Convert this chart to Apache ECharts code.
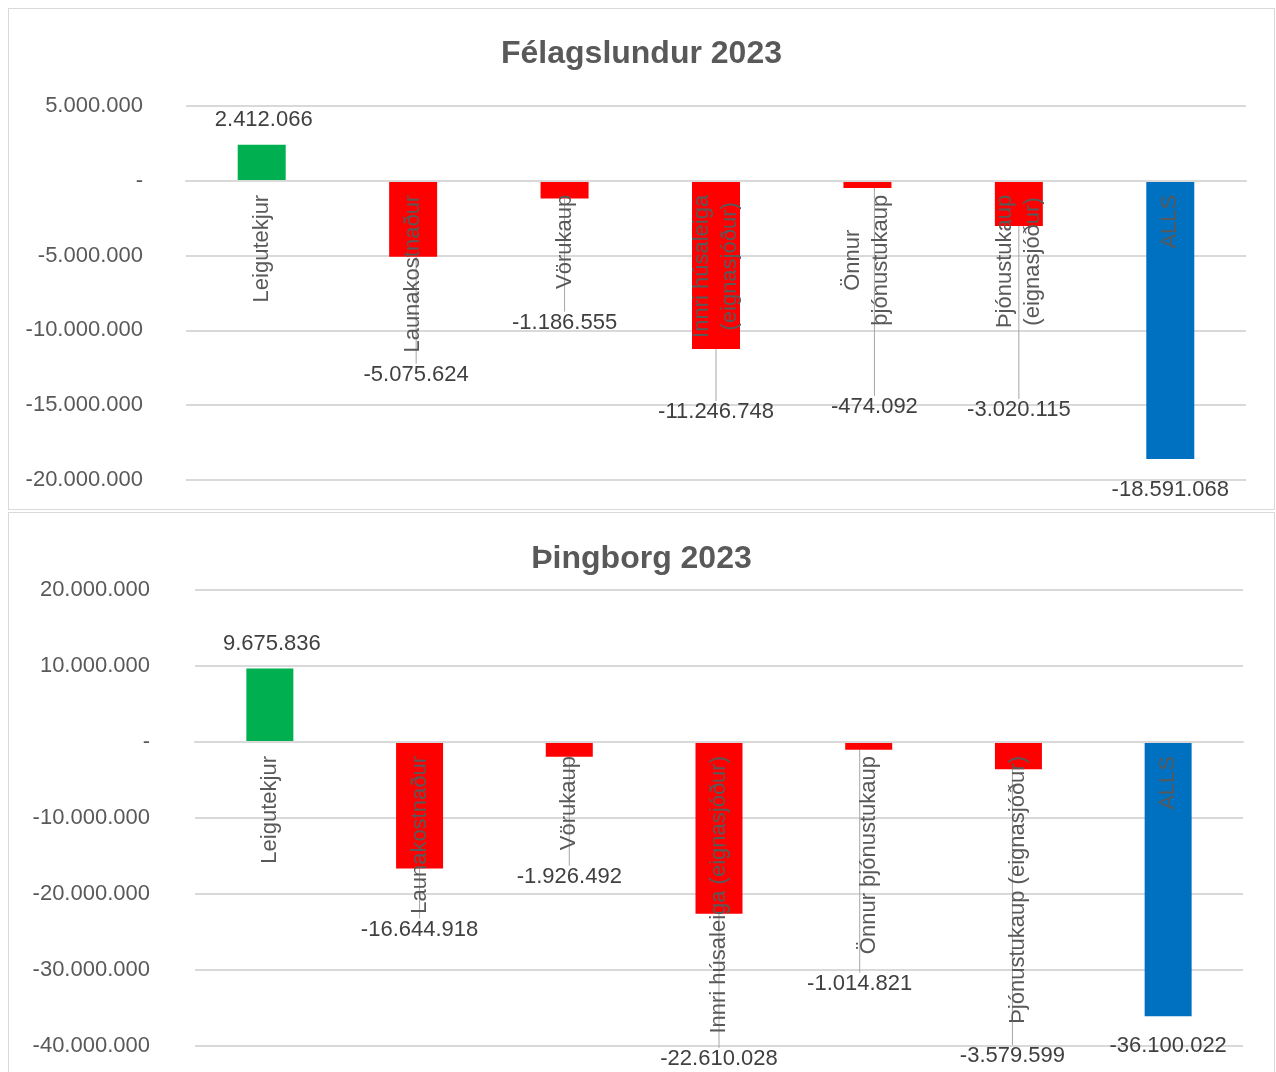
<!DOCTYPE html>
<html><head><meta charset="utf-8">
<script src="https://cdn.jsdelivr.net/npm/echarts@6/dist/echarts.min.js"></script>
<style>
html,body{margin:0;padding:0;background:#fff;overflow:hidden;width:1276px;height:1072px;}
.box{position:absolute;left:8px;width:1265px;border:1px solid #d9d9d9;background:#fff;}
#c1{top:8px;height:500px;}
#c2{top:512px;height:570px;}
</style></head><body>
<div id="c1" class="box"></div>
<div id="c2" class="box"></div>
<script>
// ---- data ----
const categories = ['Leigutekjur', 'Launakostnaður', 'Vörukaup', 'Innri húsaleiga (eignasjóður)', 'Önnur þjónustukaup', 'Þjónustukaup (eignasjóður)', 'ALLS'];
const titleTop = 'Félagslundur 2023';
const valuesTop = [2412066, -5075624, -1186555, -11246748, -474092, -3020115, -18591068];
const ticksTop = [-20000000, -15000000, -10000000, -5000000, 0, 5000000];
const titleBottom = 'Þingborg 2023';
const valuesBottom = [9675836, -16644918, -1926492, -22610028, -1014821, -3579599, -36100022];
const ticksBottom = [-40000000, -30000000, -20000000, -10000000, 0, 10000000, 20000000];

// ---- styling (label nudges in px, as placed in the original) ----
const labelShiftTop = [[2, 0], [3, 93], [0, 99], [0, 38], [7, 194], [0, 159], [0, 6]];
const labelShiftBottom = [[2, 0], [0, 36], [0, 95], [0, 120], [-9, 209], [-6, 262], [0, 5]];

const FONT = "'Liberation Sans', Arial, sans-serif";
const FS = 22;
const GREEN = '#00B050', RED = '#FF0000', BLUE = '#0070C0';

function fmt(v) {
  if (v === 0) return '-';
  const s = Math.abs(Math.round(v)).toString().replace(/\B(?=(\d{3})+(?!\d))/g, '.');
  return (v < 0 ? '-' : '') + s;
}

function build(title, values, ticks, shifts, grid, barWidth, wrap, titleTopPx, yMargin) {
  const n = values.length;
  const vMin = ticks[0], vMax = ticks[ticks.length - 1];
  grid.outerBoundsMode = 'none';
  grid.containLabel = false;
  // put the category axis on the zero line (derived from the value scale)
  const zeroOffset = -grid.height * (0 - vMin) / (vMax - vMin);
  return {
    animation: false,
    title: {
      text: title, left: 'center', top: titleTopPx,
      textStyle: { fontFamily: FONT, fontSize: 32, fontWeight: 'bold', color: '#595959' }
    },
    grid: grid,
    xAxis: {
      type: 'category',
      data: categories,
      position: 'bottom',
      offset: zeroOffset,
      z: 10,
      axisLine: { show: true, onZero: false, lineStyle: { color: '#d9d9d9', width: 2 } },
      axisTick: { show: false },
      splitLine: { show: false },
      axisLabel: {
        interval: 0, rotate: 90, margin: 14, hideOverlap: false,
        color: '#595959', fontFamily: FONT, fontSize: FS,
        padding: [0, 0, 0, 3],
        formatter: function (name) {
          if (wrap && name.length > 14) {
            const i = name.lastIndexOf(' ');
            return '{c|' + name.slice(0, i) + '}\n{c|' + name.slice(i + 1) + '}';
          }
          return name;
        },
        rich: { c: { align: 'center', color: '#595959', fontFamily: FONT, fontSize: FS, lineHeight: 28 } }
      }
    },
    yAxis: {
      type: 'value',
      min: vMin, max: vMax, interval: ticks[1] - ticks[0],
      axisLine: { show: false }, axisTick: { show: false },
      splitLine: { lineStyle: { color: '#d9d9d9', width: 2 } },
      axisLabel: { color: '#595959', fontFamily: FONT, fontSize: FS, margin: yMargin, padding: [4, 0, 0, 0], formatter: fmt }
    },
    series: [{
      type: 'bar',
      barWidth: barWidth,
      z: 2,
      data: values.map(function (v, i) {
        return {
          value: v,
          labelLine: { show: shifts[i][1] > 20, lineStyle: { color: '#a6a6a6', width: 1 } }
        };
      }),
      itemStyle: {
        color: function (p) {
          if (p.dataIndex === n - 1) return BLUE;
          return p.value >= 0 ? GREEN : RED;
        }
      },
      label: {
        show: true, position: 'outside', distance: 14,
        color: '#404040', fontFamily: FONT, fontSize: FS,
        formatter: function (p) { return fmt(p.value); }
      },
      labelLine: { show: true, lineStyle: { color: '#a6a6a6', width: 1 } },
      labelLayout: function (p) {
        const s = shifts[p.dataIndex];
        return { dx: s[0], dy: s[1] };
      }
    }]
  };
}

const c1 = echarts.init(document.getElementById('c1'), null, { renderer: 'canvas' });
c1.setOption(build(titleTop, valuesTop, ticksTop, labelShiftTop,
  { left: 177, top: 97, width: 1060, height: 374 }, 48, true, 24, 43));

const c2 = echarts.init(document.getElementById('c2'), null, { renderer: 'canvas' });
c2.setOption(build(titleBottom, valuesBottom, ticksBottom, labelShiftBottom,
  { left: 186, top: 77, width: 1048, height: 456 }, 47, false, 25, 45));
</script>
</body></html>
